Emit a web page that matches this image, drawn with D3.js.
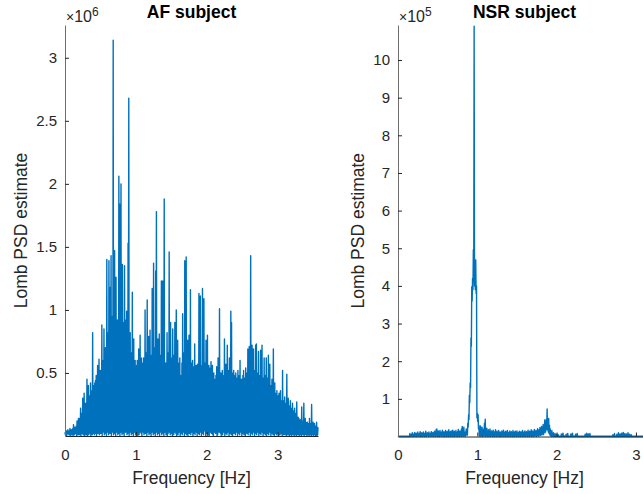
<!DOCTYPE html>
<html>
<head>
<meta charset="utf-8">
<script src="https://cdn.jsdelivr.net/npm/d3@7"></script>
<style>
  html, body { margin: 0; padding: 0; background: #fff; }
  svg { display: block; }
  text { font-family: "Liberation Sans", Arial, Helvetica, sans-serif; }
</style>
</head>
<body>
<svg id="chart" width="643" height="494"></svg>
<script>
// ---------------- DATA ----------------
// Frequency grid step (Hz): peaks at i*step, troughs half-way between consecutive peaks
const freqStep = 0.01;

// AF subject: local peak values of the Lomb PSD (units of 10^6), one per 0.01 Hz from 0 Hz
const afPeaksE6 = [
  0.03,0.02,0.04,0.03,0.05,0.03,0.04,0.06,0.03,0.05,
  0.04,0.06,0.09,0.05,0.07,0.06,0.08,0.12,0.09,0.14,
  0.14,0.12,0.22,0.16,0.18,0.30,0.20,0.34,0.22,0.26,
  0.24,0.45,0.28,0.40,0.26,0.32,0.42,0.30,0.36,0.82,
  0.40,0.36,0.42,0.44,0.48,0.40,0.56,0.46,0.61,0.42,
  0.52,0.48,0.88,0.55,0.60,0.85,0.58,0.70,0.62,1.40,
  0.75,0.82,1.39,0.72,1.18,1.43,0.85,0.95,3.14,0.80,
  1.47,0.88,1.26,0.78,0.92,0.85,2.06,1.84,0.90,2.00,
  0.82,1.36,0.90,0.75,1.35,0.86,0.92,0.99,0.80,1.53,
  2.68,0.78,0.82,0.66,0.58,1.14,0.62,0.77,0.55,0.60,
  0.50,0.56,0.60,0.52,0.69,0.58,0.80,0.50,0.62,0.55,
  0.58,0.62,0.56,1.00,0.60,0.66,1.08,0.55,0.79,0.62,
  0.84,0.52,0.64,1.17,0.60,1.37,0.58,0.70,1.31,1.78,
  0.62,0.77,0.56,0.81,0.64,0.50,1.23,0.60,1.23,0.68,
  1.88,0.56,0.58,0.45,0.82,0.60,0.66,1.46,0.55,0.90,
  0.62,0.52,0.85,0.60,0.64,0.90,0.56,1.00,0.60,0.76,
  0.50,0.58,0.62,0.48,0.35,0.58,0.97,0.55,0.66,1.39,
  0.62,1.42,0.55,0.76,0.58,0.80,0.50,1.16,0.58,0.52,
  0.60,0.48,0.55,0.73,0.50,0.56,0.46,0.57,0.52,1.13,
  0.50,1.11,0.56,0.48,1.17,0.54,1.09,0.50,0.58,0.76,
  0.46,0.80,0.52,0.56,0.45,0.54,0.59,0.48,0.56,0.42,
  0.50,0.45,0.38,0.48,0.55,0.44,0.62,0.50,1.01,0.42,
  0.50,0.44,0.52,0.42,0.48,0.77,0.46,0.57,0.50,0.72,
  0.42,0.52,0.62,0.46,0.99,0.90,0.50,0.42,0.52,0.44,
  0.48,0.50,0.40,0.46,0.52,0.42,0.48,0.60,0.38,0.45,
  0.44,0.48,0.52,0.40,0.46,0.54,0.42,0.50,0.69,0.44,
  0.71,0.48,1.43,0.46,0.72,0.50,0.69,0.40,0.52,0.72,
  0.73,0.46,0.50,0.67,0.40,0.48,0.68,0.44,0.72,0.40,
  0.46,0.62,0.42,0.48,0.62,0.38,0.46,0.64,0.42,0.57,
  0.34,0.40,0.45,0.36,0.69,0.32,0.42,0.34,0.28,0.36,
  0.28,0.32,0.34,0.26,0.36,0.28,0.22,0.52,0.26,0.28,
  0.31,0.22,0.26,0.49,0.22,0.30,0.24,0.18,0.28,0.20,
  0.22,0.26,0.16,0.20,0.22,0.14,0.18,0.27,0.12,0.15,
  0.14,0.10,0.13,0.11,0.23,0.10,0.12,0.26,0.10,0.14,
  0.11,0.08,0.11,0.09,0.10,0.14,0.08,0.10,0.25,0.08,
  0.11,0.09,0.10,0.07,0.08,0.11,0.07,0.07
];

// AF subject: trough values between consecutive peaks (units of 10^6)
const afTroughsE6 = [
  0.01,0.03,0.00,0.02,0.04,0.01,0.02,0.00,0.03,0.01,
  0.02,0.00,0.04,0.01,0.03,0.02,0.00,0.05,0.01,0.02,
  0.01,0.03,0.00,0.02,0.04,0.01,0.02,0.00,0.03,0.01,
  0.02,0.00,0.04,0.01,0.03,0.02,0.00,0.05,0.01,0.02,
  0.03,0.01,0.05,0.02,0.00,0.04,0.02,0.06,0.01,0.03,
  0.02,0.05,0.00,0.03,0.06,0.01,0.04,0.02,0.00,0.05,
  0.03,0.01,0.06,0.02,0.04,0.00,0.03,0.05,0.01,0.02,
  0.04,0.00,0.03,0.06,0.01,0.02,0.05,0.00,0.03,0.04,
  0.01,0.05,0.02,0.00,0.04,0.03,0.06,0.01,0.02,0.05,
  0.00,0.03,0.04,0.01,0.06,0.02,0.00,0.03,0.05,0.01,
  0.02,0.04,0.00,0.05,0.01,0.03,0.06,0.02,0.00,0.04,
  0.03,0.01,0.05,0.02,0.04,0.00,0.03,0.06,0.01,0.02,
  0.04,0.00,0.03,0.05,0.01,0.02,0.06,0.00,0.03,0.04,
  0.01,0.05,0.02,0.00,0.04,0.03,0.01,0.06,0.02,0.00,
  0.03,0.04,0.01,0.05,0.00,0.02,0.06,0.03,0.01,0.04,
  0.02,0.00,0.05,0.01,0.03,0.06,0.02,0.00,0.04,0.01,
  0.03,0.05,0.00,0.02,0.04,0.01,0.06,0.03,0.00,0.02,
  0.05,0.01,0.03,0.00,0.04,0.02,0.06,0.01,0.03,0.05,
  0.00,0.02,0.04,0.01,0.05,0.03,0.00,0.06,0.02,0.01,
  0.04,0.03,0.00,0.05,0.02,0.01,0.04,0.06,0.00,0.03,
  0.02,0.05,0.01,0.00,0.04,0.03,0.02,0.06,0.01,0.00,
  0.03,0.04,0.02,0.05,0.00,0.01,0.04,0.03,0.06,0.02,
  0.00,0.05,0.01,0.03,0.04,0.00,0.02,0.06,0.01,0.03,
  0.05,0.00,0.02,0.04,0.01,0.03,0.00,0.05,0.02,0.04,
  0.01,0.03,0.06,0.00,0.02,0.05,0.01,0.04,0.03,0.00,
  0.02,0.04,0.01,0.05,0.00,0.03,0.02,0.06,0.01,0.03,
  0.04,0.00,0.02,0.05,0.01,0.03,0.04,0.00,0.06,0.02,
  0.01,0.03,0.05,0.00,0.04,0.02,0.01,0.05,0.03,0.00,
  0.02,0.04,0.01,0.03,0.00,0.05,0.02,0.01,0.04,0.03,
  0.00,0.02,0.04,0.01,0.03,0.00,0.02,0.04,0.01,0.03,
  0.02,0.00,0.03,0.01,0.04,0.02,0.00,0.03,0.01,0.02,
  0.01,0.03,0.00,0.02,0.01,0.03,0.00,0.02,0.01,0.00,
  0.02,0.01,0.03,0.00,0.02,0.01,0.00,0.03,0.01,0.02,
  0.00,0.01,0.02,0.00,0.03,0.01,0.02,0.00,0.01,0.02,
  0.01,0.00,0.02,0.01,0.00,0.02,0.01,0.00,0.01,0.02,
  0.00,0.01,0.02,0.00,0.01,0.00,0.01
];

// NSR subject: local peak values of the Lomb PSD (units of 10^5), one per 0.01 Hz from 0 Hz
const nsrPeaksE5 = [
  0.01,0.00,0.01,0.01,0.00,0.01,0.00,0.01,0.01,0.00,
  0.01,0.00,0.01,0.01,0.00,0.08,0.02,0.06,0.10,0.03,
  0.07,0.11,0.04,0.09,0.05,0.12,0.03,0.08,0.13,0.04,
  0.10,0.06,0.12,0.03,0.09,0.14,0.05,0.10,0.07,0.12,
  0.04,0.09,0.13,0.05,0.11,0.06,0.14,0.08,0.18,0.20,
  0.07,0.15,0.10,0.16,0.06,0.12,0.17,0.08,0.13,0.10,
  0.16,0.06,0.14,0.11,0.18,0.07,0.13,0.15,0.09,0.17,
  0.06,0.14,0.10,0.16,0.08,0.13,0.19,0.09,0.15,0.12,
  0.20,0.27,0.14,0.25,0.10,0.12,0.20,0.08,0.35,0.58,
  1.10,1.42,2.62,3.98,4.20,4.96,10.90,4.30,4.69,4.00,
  0.62,0.58,0.30,0.20,0.28,0.12,0.25,0.10,0.20,0.35,
  0.46,0.15,0.22,0.08,0.18,0.12,0.20,0.07,0.15,0.10,
  0.17,0.06,0.13,0.18,0.09,0.14,0.07,0.16,0.10,0.12,
  0.05,0.15,0.09,0.17,0.06,0.12,0.14,0.08,0.16,0.05,
  0.11,0.15,0.07,0.13,0.09,0.16,0.05,0.12,0.14,0.08,
  0.15,0.06,0.11,0.14,0.07,0.13,0.10,0.16,0.05,0.12,
  0.15,0.08,0.13,0.10,0.17,0.07,0.14,0.12,0.18,0.09,
  0.15,0.11,0.19,0.08,0.16,0.13,0.21,0.10,0.18,0.24,
  0.15,0.27,0.20,0.32,0.25,0.44,0.30,0.46,0.73,0.42,
  0.48,0.30,0.20,0.12,0.16,0.06,0.10,0.04,0.08,0.03,
  0.06,0.02,0.05,0.01,0.01,0.01,0.07,0.02,0.09,0.03,
  0.01,0.01,0.06,0.02,0.08,0.01,0.01,0.01,0.07,0.03,
  0.09,0.02,0.01,0.01,0.06,0.02,0.08,0.01,0.01,0.01,
  0.01,0.01,0.01,0.01,0.01,0.01,0.06,0.02,0.09,0.03,
  0.07,0.02,0.08,0.01,0.01,0.01,0.01,0.01,0.01,0.01,
  0.01,0.01,0.01,0.01,0.01,0.01,0.01,0.01,0.01,0.01,
  0.01,0.01,0.01,0.01,0.01,0.01,0.01,0.01,0.01,0.01,
  0.01,0.05,0.02,0.08,0.01,0.01,0.06,0.03,0.10,0.02,
  0.07,0.03,0.09,0.02,0.11,0.04,0.08,0.02,0.07,0.03,
  0.10,0.02,0.06,0.01,0.05,0.01,0.01,0.01,0.01,0.01,
  0.01,0.01,0.01,0.01,0.01,0.01,0.01,0.01,0.01,0.01,
  0.01,0.01,0.01,0.01,0.01,0.01,0.01,0.01,0.01,0.01
];

// NSR subject: trough values between consecutive peaks (units of 10^5)
const nsrTroughsE5 = [
  0.00,0.01,0.00,0.00,0.01,0.00,0.01,0.00,0.00,0.01,
  0.00,0.01,0.00,0.00,0.01,0.00,0.02,0.00,0.01,0.00,
  0.02,0.00,0.01,0.00,0.02,0.01,0.00,0.02,0.00,0.01,
  0.00,0.02,0.01,0.00,0.02,0.00,0.01,0.03,0.00,0.02,
  0.01,0.00,0.02,0.01,0.00,0.03,0.01,0.00,0.02,0.01,
  0.00,0.02,0.00,0.03,0.01,0.00,0.02,0.01,0.00,0.02,
  0.01,0.00,0.03,0.00,0.02,0.01,0.00,0.02,0.01,0.00,
  0.02,0.00,0.03,0.01,0.00,0.02,0.01,0.00,0.03,0.01,
  0.00,0.02,0.01,0.03,0.00,0.02,0.05,0.04,0.25,0.45,
  0.90,1.30,2.40,3.60,3.90,4.10,4.00,3.90,3.80,0.50,
  0.40,0.20,0.02,0.00,0.03,0.01,0.00,0.02,0.01,0.03,
  0.00,0.02,0.01,0.00,0.02,0.01,0.00,0.03,0.01,0.00,
  0.02,0.00,0.01,0.03,0.00,0.02,0.01,0.00,0.02,0.00,
  0.01,0.03,0.00,0.02,0.01,0.00,0.02,0.01,0.00,0.03,
  0.01,0.00,0.02,0.01,0.00,0.02,0.00,0.03,0.01,0.00,
  0.02,0.01,0.00,0.03,0.00,0.02,0.01,0.00,0.02,0.01,
  0.00,0.03,0.01,0.00,0.02,0.00,0.01,0.03,0.00,0.02,
  0.01,0.00,0.02,0.03,0.00,0.04,0.02,0.01,0.05,0.03,
  0.06,0.04,0.08,0.05,0.12,0.10,0.15,0.20,0.18,0.12,
  0.08,0.04,0.02,0.00,0.01,0.00,0.01,0.00,0.00,0.01,
  0.00,0.00,0.00,0.00,0.00,0.00,0.00,0.00,0.00,0.00,
  0.00,0.00,0.00,0.00,0.00,0.00,0.00,0.00,0.00,0.00,
  0.00,0.00,0.00,0.00,0.00,0.00,0.00,0.00,0.00,0.00,
  0.00,0.00,0.00,0.00,0.00,0.00,0.00,0.00,0.00,0.00,
  0.00,0.00,0.00,0.00,0.00,0.00,0.00,0.00,0.00,0.00,
  0.00,0.00,0.00,0.00,0.00,0.00,0.00,0.00,0.00,0.00,
  0.00,0.00,0.00,0.00,0.00,0.00,0.00,0.00,0.00,0.00,
  0.00,0.00,0.00,0.00,0.00,0.00,0.00,0.00,0.00,0.00,
  0.00,0.00,0.00,0.00,0.00,0.00,0.00,0.00,0.00,0.00,
  0.00,0.00,0.00,0.00,0.00,0.00,0.00,0.00,0.00,0.00,
  0.00,0.00,0.00,0.00,0.00,0.00,0.00,0.00,0.00,0.00,
  0.00,0.00,0.00,0.00,0.00,0.00,0.00,0.00,0.00
];

const xTicks = [0, 1, 2, 3];
const afYTicks = [0.5, 1, 1.5, 2, 2.5, 3];
const nsrYTicks = [1, 2, 3, 4, 5, 6, 7, 8, 9, 10];
const titles = ["AF subject", "NSR subject"];
const exponents = ["6", "5"];
const xLabel = "Frequency [Hz]";
const yLabel = "Lomb PSD estimate";
const xLimits = [3.57, 3.19];
const yLimits = [3.26, 10.93];

// ---------------- DRAW ----------------
const svg = d3.select("#chart");
svg.append("rect").attr("width", 643).attr("height", 494).attr("fill", "#fff");

const lineColor = "#0072BD";
const axisColor = "#262626";

// interleave peaks (at i*step) and troughs (at (i+0.5)*step) into one spectrum trace
function buildTrace(peaks, troughs) {
  const pts = [];
  peaks.forEach((v, i) => {
    pts.push([i * freqStep, v]);
    if (i < troughs.length && i < peaks.length - 1) pts.push([(i + 0.5) * freqStep, troughs[i]]);
  });
  return pts;
}

const panels = [
  { left: 65, right: 318, top: 25, bottom: 436, data: buildTrace(afPeaksE6, afTroughsE6), yTicks: afYTicks,
    xMax: xLimits[0], yMax: yLimits[0], title: titles[0], exp: exponents[0], ylabX: 21 },
  { left: 398, right: 651, top: 25, bottom: 436.5, data: buildTrace(nsrPeaksE5, nsrTroughsE5), yTicks: nsrYTicks,
    xMax: xLimits[1], yMax: yLimits[1], title: titles[1], exp: exponents[1], ylabX: 358 }
];

panels.forEach(p => {
  const x = d3.scaleLinear().domain([0, p.xMax]).range([p.left, p.right]);
  const y = d3.scaleLinear().domain([0, p.yMax]).range([p.bottom, p.top]);
  const g = svg.append("g");

  const line = d3.line().x(d => x(d[0])).y(d => y(d[1]));
  g.append("path")
    .datum(p.data)
    .attr("d", line)
    .attr("fill", "none")
    .attr("stroke", lineColor)
    .attr("stroke-width", 1.4)
    .attr("stroke-linejoin", "round");

  // x axis
  const xAxis = d3.axisBottom(x).tickValues(xTicks).tickFormat(d3.format("d"))
    .tickSizeInner(-4).tickSizeOuter(0).tickPadding(13);
  const gx = g.append("g").attr("transform", `translate(0,${p.bottom})`).call(xAxis);
  gx.select(".domain").attr("stroke", axisColor).attr("stroke-width", 1);
  gx.selectAll(".tick line").attr("stroke", axisColor);
  gx.selectAll(".tick text").attr("fill", axisColor).style("font-size", "15px")
    .style("font-family", '"Liberation Sans", Arial, sans-serif');

  // y axis
  const yAxis = d3.axisLeft(y).tickValues(p.yTicks).tickFormat(d => String(d))
    .tickSizeInner(-4).tickSizeOuter(0).tickPadding(8);
  const gy = g.append("g").attr("transform", `translate(${p.left},0)`).call(yAxis);
  gy.select(".domain").attr("stroke", "#6e6e6e").attr("stroke-width", 1);
  gy.selectAll(".tick line").attr("stroke", axisColor);
  gy.selectAll(".tick text").attr("fill", axisColor).style("font-size", "15px")
    .style("font-family", '"Liberation Sans", Arial, sans-serif');

  // exponent label (×10^n)
  const ex = g.append("text").attr("x", p.left + 1).attr("y", 22).attr("fill", axisColor);
  ex.append("tspan").style("font-size", "14px").text("×");
  ex.append("tspan").style("font-size", "16px").text("10");
  ex.append("tspan").attr("dy", -6).style("font-size", "12px").text(p.exp);

  // title
  g.append("text")
    .attr("x", (p.left + p.right) / 2).attr("y", 18)
    .attr("text-anchor", "middle")
    .attr("fill", "#000")
    .style("font-size", "17.5px").style("font-weight", "bold")
    .text(p.title);

  // x label
  g.append("text")
    .attr("x", (p.left + p.right) / 2).attr("y", 484)
    .attr("text-anchor", "middle")
    .attr("fill", axisColor)
    .style("font-size", "17.5px")
    .text(xLabel);

  // y label
  g.append("text")
    .attr("transform", `translate(${p.ylabX},${(p.top + p.bottom) / 2}) rotate(-90)`)
    .attr("text-anchor", "middle")
    .attr("dy", "0.35em")
    .attr("fill", axisColor)
    .style("font-size", "17.5px")
    .text(yLabel);
});
</script>
</body>
</html>
